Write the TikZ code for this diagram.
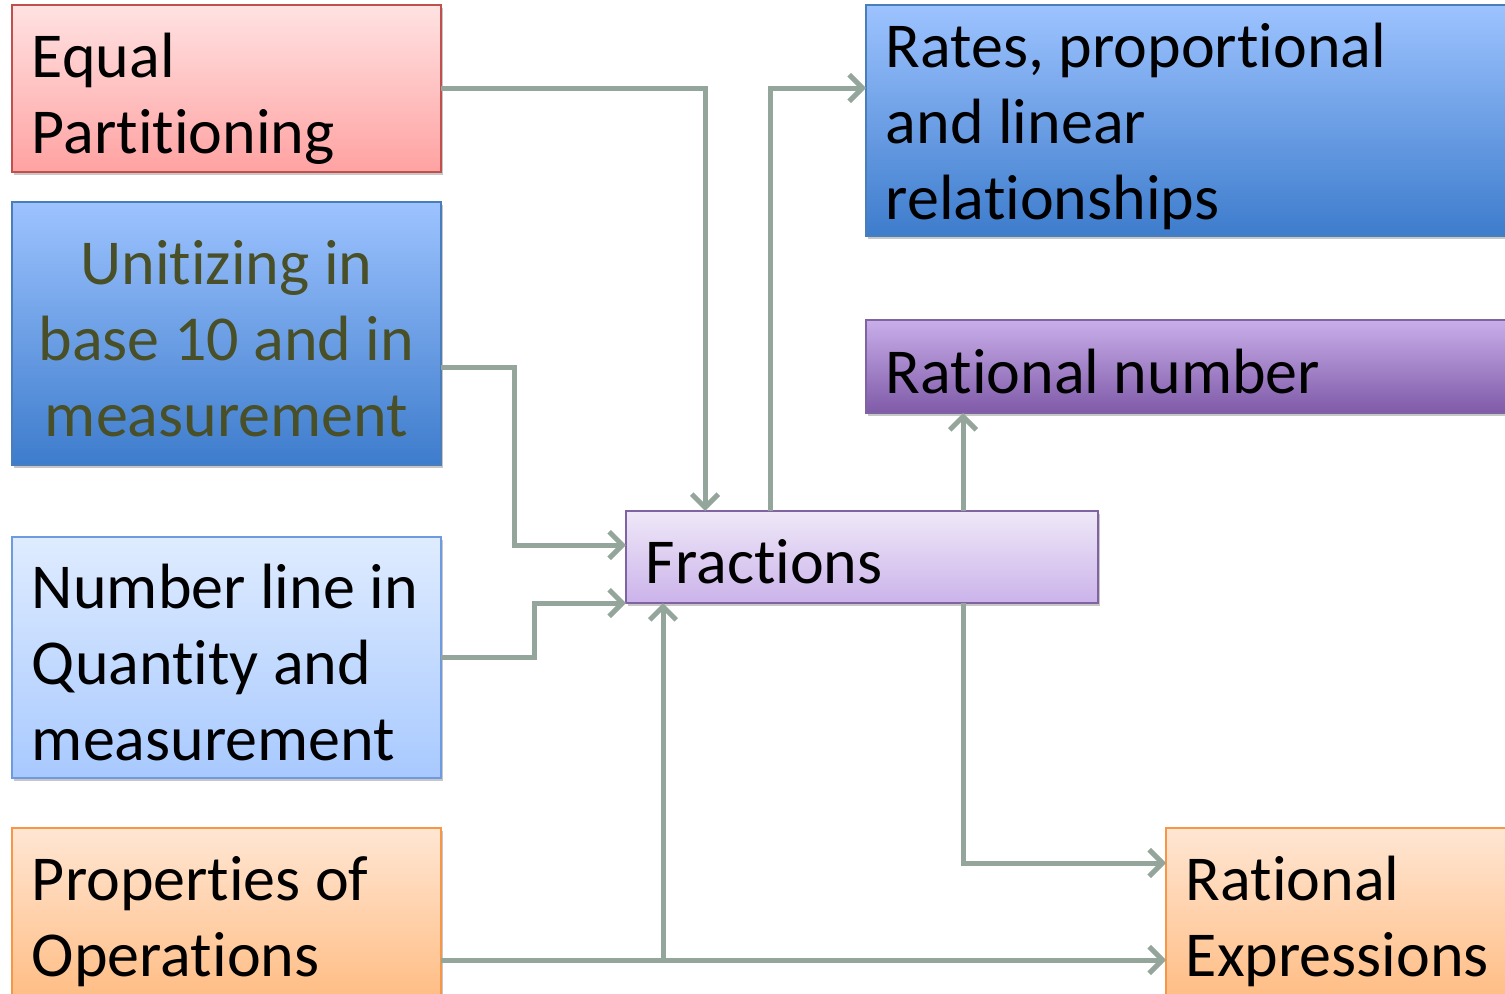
\documentclass[tikz,border=0pt]{standalone}
\usepackage{fontspec}
\setmainfont{Carlito}[RawFeature={-liga;-clig;-calt;-dlig}]
\usetikzlibrary{arrows.meta,shadows}
\definecolor{conn}{HTML}{94A69B}
\definecolor{pinkT}{HTML}{FFE2E2}
\definecolor{pinkB}{HTML}{FFA2A2}
\definecolor{pinkD}{HTML}{C0504D}
\definecolor{blueT}{HTML}{9DC3FF}
\definecolor{blueB}{HTML}{3D7CCC}
\definecolor{blueD}{HTML}{4A7EBB}
\definecolor{lblueT}{HTML}{DFECFF}
\definecolor{lblueB}{HTML}{A8C9FF}
\definecolor{lblueD}{HTML}{6E9BE0}
\definecolor{orT}{HTML}{FFE6D3}
\definecolor{orB}{HTML}{FFBE86}
\definecolor{orD}{HTML}{F79646}
\definecolor{purT}{HTML}{C9AEEA}
\definecolor{purB}{HTML}{7F5AA8}
\definecolor{purD}{HTML}{8064A2}
\definecolor{lpurT}{HTML}{EFE8F8}
\definecolor{lpurB}{HTML}{CBB3EA}
\definecolor{olive}{HTML}{494F26}
\newcommand\lst{\rule[-8.6pt]{0pt}{57pt}}
\begin{document}
\begin{tikzpicture}[x=0.75pt,y=-0.75pt,
  box/.style={rectangle, line width=1.5pt, anchor=north west, inner sep=0pt, outer sep=0pt,
    drop shadow={shadow xshift=1.5pt, shadow yshift=-2.5pt, opacity=0.22, fill=black}},
  pinkbox/.style={box, draw=pinkD, top color=pinkT, bottom color=pinkB},
  bluebox/.style={box, draw=blueD, top color=blueT, bottom color=blueB},
  lbluebox/.style={box, draw=lblueD, top color=lblueT, bottom color=lblueB},
  orbox/.style={box, draw=orD, top color=orT, bottom color=orB},
  purbox/.style={box, draw=purD, top color=purT, bottom color=purB},
  lpurbox/.style={box, draw=purD, top color=lpurT, bottom color=lpurB},
  lbl/.style={anchor=west, inner sep=0pt, align=left, font=\fontsize{48}{57}\selectfont},
  clbl/.style={inner sep=0pt, align=center, font=\fontsize{48}{57}\selectfont, text=olive},
  link/.style={draw=conn, line width=3.75pt, -{Straight Barb[length=10pt,width=20pt,line width=3.75pt]}},
]
\useasboundingbox (0,0) rectangle (1505,993);
\clip (0,0) rectangle (1505,993);

% boxes
\node[pinkbox,  minimum width=321.75pt, minimum height=125.25pt] (eq) at (12,5) {};
\node[bluebox,  minimum width=321.75pt, minimum height=197.25pt] (un) at (12,202) {};
\node[lbluebox, minimum width=321.75pt, minimum height=180.75pt] (nl) at (12,537) {};
\node[orbox,    minimum width=321.75pt, minimum height=125.25pt] (pr) at (12,828) {};
\node[lpurbox,  minimum width=354pt,    minimum height=69pt]     (fr) at (626,511) {};
\node[bluebox,  minimum width=486.75pt, minimum height=173.25pt] (ra) at (866,5) {};
\node[purbox,   minimum width=486.75pt, minimum height=69.75pt]  (rn) at (866,320) {};
\node[orbox,    minimum width=261.75pt, minimum height=125.25pt] (re) at (1166,828) {};

% texts
\node[lbl] (eqt) at ([xshift=14.75pt]eq.west) {\lst Equal\\\lst Partitioning};
\node[clbl] (unt) at (un.center) {\lst Unitizing in\\\lst base 10 and in\\\lst measurement};
\node[lbl] (nlt) at ([xshift=14.75pt]nl.west) {\lst Number line in\\\lst Quantity and\\\lst measurement};
\node[lbl] (prt) at ([xshift=14.75pt]pr.west) {\lst Properties of\\\lst Operations};
\node[lbl] (frt) at ([xshift=14.75pt]fr.west) {\lst Fractions};
\node[lbl] (rat) at ([xshift=14.75pt,yshift=2.5pt]ra.west) {\lst Rates, proportional\\\lst and linear\\\lst relationships};
\node[lbl] (rnt) at ([xshift=14.75pt]rn.west) {\lst Rational number};
\node[lbl] (ret) at ([xshift=14.75pt]re.west) {\lst Rational\\\lst Expressions};

% lane coordinates
\coordinate (xa) at (705,0);
\coordinate (xb) at (514,0);
\coordinate (xc) at (534,0);
\coordinate (xd) at (663,0);
\coordinate (xe) at (770,0);
\coordinate (xf) at (963,0);
\coordinate (y88) at (0,88);
\coordinate (y367) at (0,367);
\coordinate (y545) at (0,545);
\coordinate (y863) at (0,863);
\coordinate (y960) at (0,960);

% connectors
\draw[link] (eq.east |- y88) -| (fr.north -| xa);
\draw[link] (un.east |- y367) -| (xb |- y545) -- (fr.west |- y545);
\draw[link] (nl.east) -| (xc |- fr.south west) -- (fr.south west);
\draw[link] (pr.east |- y960) -- (re.west |- y960);
\draw[link] (xd |- y960) -- (fr.south -| xd);
\draw[link] (fr.north -| xe) |- (ra.west |- y88);
\draw[link] (fr.north -| xf) -- (rn.south -| xf);
\draw[link] (fr.south -| xf) |- (re.west |- y863);
\end{tikzpicture}
\end{document}
